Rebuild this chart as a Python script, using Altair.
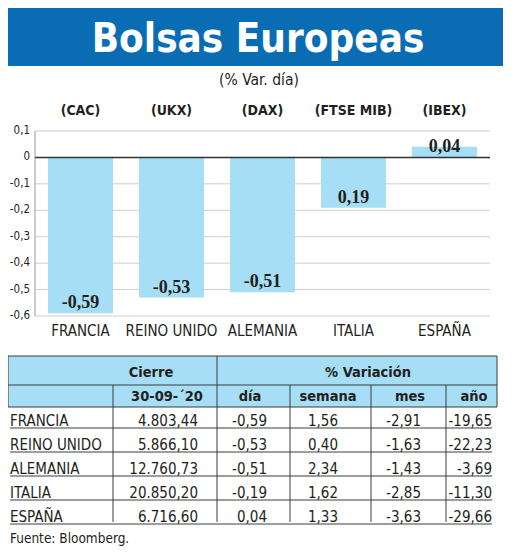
import altair as alt
import pandas as pd

# ---------------- data ----------------
countries = ["FRANCIA", "REINO UNIDO", "ALEMANIA", "ITALIA", "ESPAÑA"]
indices = ["(CAC)", "(UKX)", "(DAX)", "(FTSE MIB)", "(IBEX)"]
var_dia = [-0.59, -0.53, -0.51, -0.19, 0.04]
bar_labels = ["-0,59", "-0,53", "-0,51", "0,19", "0,04"]
y_ticks = [0.1, 0.0, -0.1, -0.2, -0.3, -0.4, -0.5, -0.6]
y_tick_labels = ["0,1", "0", "-0,1", "-0,2", "-0,3", "-0,4", "-0,5", "-0,6"]

cierre = ["4.803,44", "5.866,10", "12.760,73", "20.850,20", "6.716,60"]
tbl_dia = ["-0,59", "-0,53", "-0,51", "-0,19", "0,04"]
semana = ["1,56", "0,40", "2,34", "1,62", "1,33"]
mes = ["-2,91", "-1,63", "-1,43", "-2,85", "-3,63"]
anio = ["-19,65", "-22,23", "-3,69", "-11,30", "-29,66"]

title_text = "Bolsas Europeas"
subtitle_text = "(% Var. día)"
header1 = ["Cierre", "% Variación"]
header2 = ["30-09-´20", "día", "semana", "mes", "año"]
source_text = "Fuente: Bloomberg."

# ---------------- style ----------------
NARROW = "DejaVu Sans Condensed, DejaVu Sans, sans-serif"
SERIF = "Liberation Serif, DejaVu Serif, serif"
BLUE = "#0a6db4"
LIGHT = "#a5def5"
INK = "#231f20"
GRID = "#cdcdcd"
LINE = "#3c3c3c"

W, H = 504, 539
FS_TXT = 15
FS_HDR = 14.5


def one(text):
    return pd.DataFrame({"t": [text]})


def xband():
    return alt.X("country:N", axis=None,
                 scale=alt.Scale(domain=countries, range=[27, 482],
                                 paddingInner=0.286, paddingOuter=0.143))


def yval():
    return alt.Scale(domain=[-0.6, 0.1], range=[308, 123])


def yrow(r0, r1):
    return alt.Y("country:N", axis=None,
                 scale=alt.Scale(type="point", domain=countries, range=[r0, r1], padding=0))


layers = []

# title banner
layers.append(alt.Chart(one(title_text)).mark_rect(color=BLUE).encode(
    x=alt.value(0), x2=alt.value(495), y=alt.value(0), y2=alt.value(58)))
layers.append(alt.Chart(one(title_text)).mark_text(
    font=NARROW, fontSize=40, fontWeight="bold", color="white",
    align="center", baseline="alphabetic").encode(
    x=alt.value(250), y=alt.value(44), text="t:N"))
layers.append(alt.Chart(one(subtitle_text)).mark_text(
    font=NARROW, fontSize=15.5, color=INK, align="center", baseline="middle").encode(
    x=alt.value(251), y=alt.value(72), text="t:N"))

# bar chart
bars_df = pd.DataFrame({"country": countries, "idx": indices, "v": var_dia, "lab": bar_labels})
ticks_df = pd.DataFrame({"v": y_ticks, "lab": y_tick_labels})

layers.append(alt.Chart(bars_df).mark_text(
    font=NARROW, fontSize=14, fontWeight="bold", color=INK, baseline="middle").encode(
    x=xband(), y=alt.value(103), text="idx:N"))

layers.append(alt.Chart(ticks_df).transform_filter("datum.v != 0").mark_rule(
    color=GRID, strokeWidth=1).encode(
    x=alt.value(27), x2=alt.value(482), y=alt.Y("v:Q", scale=yval(), axis=None)))
layers.append(alt.Chart(one("axis")).mark_rule(color="#9a9a9a", strokeWidth=1).encode(
    x=alt.value(27), y=alt.value(123), y2=alt.value(308)))

layers.append(alt.Chart(bars_df).mark_bar(color=LIGHT).encode(
    x=xband(), y=alt.Y("v:Q", scale=yval(), axis=None)))

layers.append(alt.Chart(ticks_df).transform_filter("datum.v == 0").mark_rule(
    color="#333333", strokeWidth=1.5).encode(
    x=alt.value(27), x2=alt.value(482), y=alt.Y("v:Q", scale=yval(), axis=None)))

layers.append(alt.Chart(ticks_df).mark_text(
    font=NARROW, fontSize=11.5, color=INK, align="right", baseline="middle").encode(
    x=alt.value(22), y=alt.Y("v:Q", scale=yval(), axis=None), text="lab:N"))

layers.append(alt.Chart(bars_df).transform_calculate(low="min(datum.v, 0)").mark_text(
    font=SERIF, fontSize=18, fontWeight="bold", color=INK, baseline="alphabetic", dy=-5).encode(
    x=xband(), y=alt.Y("low:Q", scale=yval(), axis=None), text="lab:N"))

layers.append(alt.Chart(bars_df).mark_text(
    font=NARROW, fontSize=FS_TXT, color=INK, baseline="middle").encode(
    x=xband(), y=alt.value(323), text="country:N"))

# ---------------- table ----------------
layers.append(alt.Chart(one("hdr")).mark_rect(color=LIGHT).encode(
    x=alt.value(0), x2=alt.value(489), y=alt.value(348), y2=alt.value(399)))

for yy in (348, 377, 399):
    layers.append(alt.Chart(one("h")).mark_rule(color=LINE, strokeWidth=1).encode(
        x=alt.value(0), x2=alt.value(489), y=alt.value(yy)))
for xx in (0, 209, 489):
    layers.append(alt.Chart(one("v")).mark_rule(color=LINE, strokeWidth=1).encode(
        x=alt.value(xx), y=alt.value(348), y2=alt.value(399)))
for xx in (105, 282, 363, 438):
    layers.append(alt.Chart(one("v")).mark_rule(color=LINE, strokeWidth=1).encode(
        x=alt.value(xx), y=alt.value(377), y2=alt.value(399)))
for xx in (105, 209, 282, 363, 438):
    layers.append(alt.Chart(one("v")).mark_rule(color=LINE, strokeWidth=1).encode(
        x=alt.value(xx), y=alt.value(399), y2=alt.value(514)))

for txt, xx in zip(header1, (143, 360)):
    layers.append(alt.Chart(one(txt)).mark_text(
        font=NARROW, fontSize=FS_HDR, fontWeight="bold", color=INK, align="center",
        baseline="middle").encode(x=alt.value(xx), y=alt.value(364.5), text="t:N"))
for txt, xx in zip(header2, (159, 242, 320, 402, 466)):
    layers.append(alt.Chart(one(txt)).mark_text(
        font=NARROW, fontSize=FS_HDR, fontWeight="bold", color=INK, align="center",
        baseline="middle").encode(x=alt.value(xx), y=alt.value(389), text="t:N"))

rows_df = pd.DataFrame({"country": countries})
layers.append(alt.Chart(rows_df).mark_rule(color=LINE, strokeWidth=1).encode(
    x=alt.value(2), x2=alt.value(484), y=yrow(420, 516)))

columns = [
    (countries, 2, "left"),
    (cierre, 190, "right"),
    (tbl_dia, 259, "right"),
    (semana, 330, "right"),
    (mes, 413, "right"),
    (anio, 484, "right"),
]
for vals, xx, al in columns:
    df = pd.DataFrame({"country": countries, "txt": vals})
    layers.append(alt.Chart(df).mark_text(
        font=NARROW, fontSize=FS_TXT, color=INK, align=al, baseline="alphabetic").encode(
        x=alt.value(xx), y=yrow(418, 514), text="txt:N"))

layers.append(alt.Chart(one(source_text)).mark_text(
    font=NARROW, fontSize=13.5, color=INK, align="left", baseline="alphabetic").encode(
    x=alt.value(2), y=alt.value(535), text="t:N"))

chart = alt.layer(*layers).resolve_scale(x="independent", y="independent").properties(
    width=W, height=H, autosize=alt.AutoSizeParams(type="none"), padding=0
).configure_view(stroke=None)

chart.save("out.html", embed_options={"renderer": "svg", "actions": False})
